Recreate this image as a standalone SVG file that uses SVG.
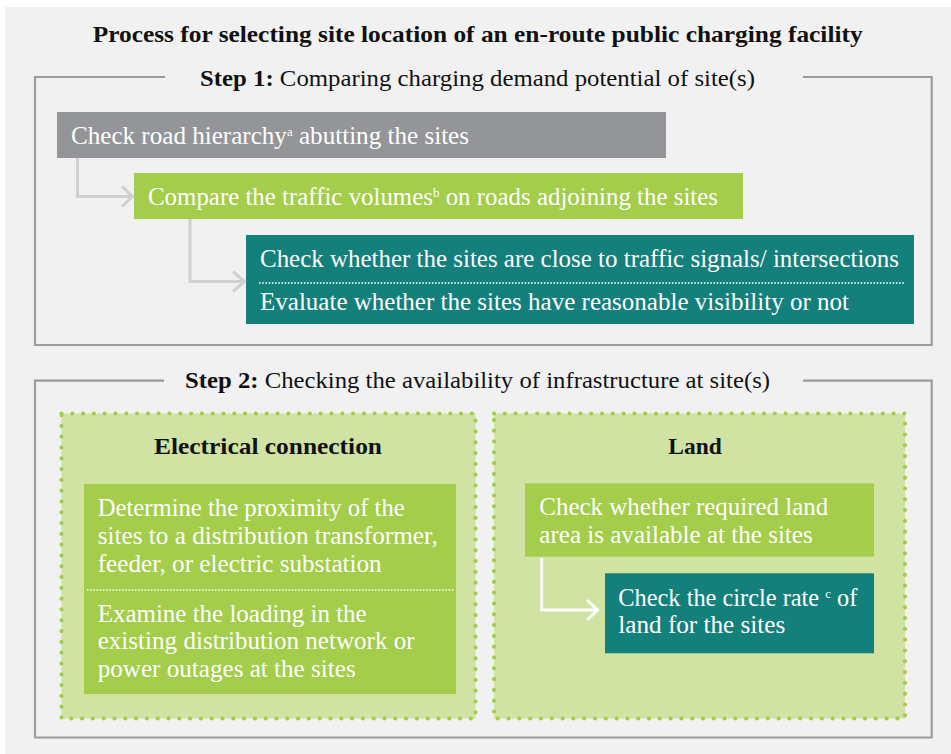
<svg xmlns="http://www.w3.org/2000/svg" width="951" height="754" viewBox="0 0 951 754">
<style>
.t{font-family:"Liberation Serif","Times New Roman",serif;}
.title{font-size:23px;font-weight:bold;fill:#111;}
.step{font-size:24px;fill:#111;}
.b{font-weight:bold;}
.body{font-size:25px;fill:#fff;}
.head{font-size:24px;font-weight:bold;fill:#111;}
.sup{font-size:13px;}
.frame{fill:none;stroke:#9c9c9e;stroke-width:2.2;}
.conn{fill:none;stroke:#d0d0d0;stroke-width:3;}
.connw{fill:none;stroke:#fff;stroke-width:3;}
.dotw{fill:none;stroke:#fff;stroke-width:1.6;stroke-dasharray:1.6 1.6;}
.panel{fill:#d0e3a3;stroke:#a3cd47;stroke-width:4.2;stroke-linecap:round;stroke-dasharray:0 10.8;}
</style>
<rect x="5" y="7" width="946" height="747" fill="#f1f1f1"/>
<text class="t title" x="92.7" y="41.7" textLength="770" lengthAdjust="spacingAndGlyphs">Process for selecting site location of an en-route public charging facility</text>

<g id="step1">
<path class="frame" d="M165,77 H35 V345 H931.7 V77 H803"/>
<text class="t step" x="200" y="86" textLength="555" lengthAdjust="spacingAndGlyphs"><tspan class="b">Step 1:</tspan> Comparing charging demand potential of site(s)</text>
</g>

<g id="road">
<rect x="57" y="112" width="609" height="46" fill="#939598"/>
<text class="t body" x="71" y="144" textLength="398" lengthAdjust="spacingAndGlyphs">Check road hierarchy<tspan class="sup" dy="-8">a</tspan><tspan dy="8"> abutting the sites</tspan></text>
</g>

<g id="traffic">
<rect x="134" y="173" width="609" height="46" fill="#a3cd4a"/>
<text class="t body" x="148" y="205" textLength="570" lengthAdjust="spacingAndGlyphs">Compare the traffic volumes<tspan class="sup" dy="-8">b</tspan><tspan dy="8"> on roads adjoining the sites</tspan></text>
</g>

<g id="signals">
<rect x="246" y="235" width="668" height="89" fill="#13807c"/>
<text class="t body" x="260" y="267" textLength="639" lengthAdjust="spacingAndGlyphs">Check whether the sites are close to traffic signals/ intersections</text>
<line class="dotw" x1="259" y1="283" x2="905" y2="283"/>
<text class="t body" x="260" y="310" textLength="589" lengthAdjust="spacingAndGlyphs">Evaluate whether the sites have reasonable visibility or not</text>
</g>

<g id="step2">
<path class="frame" d="M164,380.7 H35 V737.5 H931.7 V380.7 H803"/>
<text class="t step" x="185" y="388" textLength="585" lengthAdjust="spacingAndGlyphs"><tspan class="b">Step 2:</tspan> Checking the availability of infrastructure at site(s)</text>
</g>

<g id="electrical">
<rect class="panel" x="61.5" y="413.5" width="414" height="305"/>
<text class="t head" x="154" y="454" textLength="228" lengthAdjust="spacingAndGlyphs">Electrical connection</text>
<rect x="84" y="484" width="372" height="210" fill="#a3cd4a"/>
<text class="t body" x="97.7" y="516" textLength="307" lengthAdjust="spacingAndGlyphs">Determine the proximity of the</text>
<text class="t body" x="97.7" y="544" textLength="340" lengthAdjust="spacingAndGlyphs">sites to a distribution transformer,</text>
<text class="t body" x="97.7" y="572" textLength="284" lengthAdjust="spacingAndGlyphs">feeder, or electric substation</text>
<line class="dotw" x1="87" y1="590" x2="455" y2="590"/>
<text class="t body" x="97.7" y="621.7" textLength="269" lengthAdjust="spacingAndGlyphs">Examine the loading in the</text>
<text class="t body" x="97.7" y="649.3" textLength="317" lengthAdjust="spacingAndGlyphs">existing distribution network or</text>
<text class="t body" x="97.7" y="677.3" textLength="258" lengthAdjust="spacingAndGlyphs">power outages at the sites</text>
</g>

<g id="land">
<rect class="panel" x="494" y="413.5" width="411" height="305"/>
<text class="t head" x="668.3" y="454" textLength="53.4" lengthAdjust="spacingAndGlyphs">Land</text>
</g>

<g id="landarea">
<rect x="525" y="483.3" width="349" height="73.4" fill="#a3cd4a"/>
<text class="t body" x="539.3" y="515" textLength="289" lengthAdjust="spacingAndGlyphs">Check whether required land</text>
<text class="t body" x="539.3" y="542.7" textLength="273.4" lengthAdjust="spacingAndGlyphs">area is available at the sites</text>
</g>

<g id="circlerate">
<rect x="605" y="573.3" width="269" height="80" fill="#13807c"/>
<text class="t body" x="618.3" y="606" textLength="239" lengthAdjust="spacingAndGlyphs">Check the circle rate <tspan class="sup" dy="-8">c</tspan><tspan dy="8"> of</tspan></text>
<text class="t body" x="618.3" y="633" textLength="167" lengthAdjust="spacingAndGlyphs">land for the sites</text>
</g>

<g id="connectors">
<path class="conn" d="M77.5,158 V196.5 H132"/>
<path class="conn" d="M122,186.5 L132.5,196.5 L122,206.5"/>
<path class="conn" d="M190,219 V281.5 H244"/>
<path class="conn" d="M233,271.5 L244.5,281.5 L233,291.5"/>
<path class="connw" d="M541.7,558 V610 H597"/>
<path class="connw" d="M587,600 L597.5,610 L587,620"/>
</g>
</svg>
